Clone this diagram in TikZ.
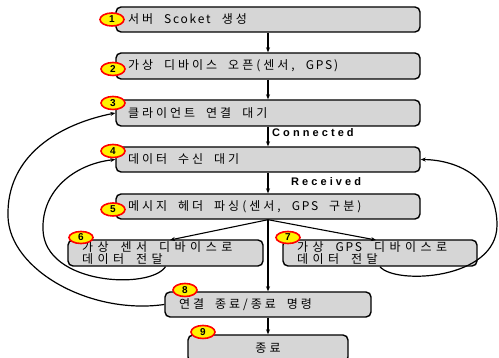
\documentclass[tikz,border=0pt]{standalone}
\usepackage{fontspec}
\setmainfont{Noto Sans CJK KR}[LetterSpace=15]
\newfontfamily\latb{Liberation Sans}[LetterSpace=28]
\newfontfamily\numf{Liberation Sans}
\usetikzlibrary{shapes.geometric,arrows.meta}
\newdimen\hkern \hkern=3pt
\newdimen\wspd \wspd=11pt
\XeTeXinterchartokenstate=1
\newXeTeXintercharclass\hangulcls
\makeatletter
\count@="AC00
\loop \XeTeXcharclass\count@=\hangulcls \ifnum\count@<"D7A3 \advance\count@ 1 \repeat
\makeatother
\XeTeXinterchartoks\hangulcls\hangulcls={\kern\hkern}
\XeTeXinterchartoks\hangulcls 0={\kern\hkern}
\XeTeXinterchartoks 0\hangulcls={\kern\hkern}
\newcommand\myboxfont{\fontsize{12}{12.5}\selectfont}
\newcommand\mywidefont{\fontsize{12}{12.5}\selectfont\hkern=4.5pt\wspd=12pt\relax}
\newcommand\wsp{\hspace{\wspd}}
\begin{document}
\begin{tikzpicture}[x=1pt,y=-1pt,
  box/.style={draw=black, line width=1.4pt, rounded corners=5pt, fill=black!16,
    inner xsep=12pt, inner ysep=0pt, font=\myboxfont, align=left},
  badge/.style={ellipse, draw=red, line width=1.6pt, fill=yellow, minimum width=24pt,
    minimum height=13pt, inner sep=0pt, font=\numf\bfseries\fontsize{10}{10}\selectfont},
  arr/.style={-{Stealth[length=5pt,width=4pt]}, line width=1.1pt},
  carr/.style={-{Stealth[length=5pt,width=4pt]}, line width=1.2pt},
  lbl/.style={font=\latb\bfseries\fontsize{11}{12}\selectfont, anchor=west, inner sep=0pt}]
\useasboundingbox (0,0) rectangle (499,358);
% boxes
\node[box, minimum width=304pt, minimum height=25pt, text width=280pt] (b1) at (268,19.5) {서버\wsp Scoket\wsp 생성};
\node[box, minimum width=304pt, minimum height=26pt, text width=280pt] (b2) at (268,66) {가상\wsp 디바이스\wsp 오픈(센서,\wsp GPS)};
\node[box, minimum width=304pt, minimum height=26pt, text width=280pt] (b3) at (268,113) {클라이언트\wsp 연결\wsp 대기};
\node[box, minimum width=304pt, minimum height=25pt, text width=280pt] (b4) at (268,159.5) {데이터\wsp 수신\wsp 대기};
\node[box, minimum width=304pt, minimum height=25pt, text width=280pt] (b5) at (268,206.5) {메시지\wsp 헤더\wsp 파싱(센서,\wsp GPS\wsp 구분)};
\node[box, font=\mywidefont, inner xsep=14pt, minimum width=195pt, minimum height=26pt, text width=167pt] (b6) at (165.5,253) {가상\wsp 센서\wsp 디바이스로\\데이터\wsp 전달};
\node[box, font=\mywidefont, inner xsep=14pt, minimum width=194pt, minimum height=26pt, text width=166pt] (b7) at (380,253) {가상\wsp GPS\wsp 디바이스로\\데이터\wsp 전달};
\node[box, inner xsep=14pt, minimum width=206pt, minimum height=25pt, text width=178pt] (b8) at (268,304.5) {연결\wsp 종료/종료\wsp 명령};
\node[box, align=center, minimum width=160pt, minimum height=27pt, text width=132pt] (b9) at (268,348.5) {종료};
% labels
\node[lbl] (lc) at (272,133) {Connected};
\node[lbl] (lr) at (291,182) {Received};
% straight connectors
\draw[arr] (b1.south) -- (b2.north);
\draw[arr] (b2.south) -- (b3.north);
\draw[arr] (b3.south) -- (b4.north);
\draw[arr] (b4.south) -- (b5.north);
\coordinate (t6) at (170,240);
\coordinate (t7) at (376,240);
\draw[arr] (b5.south) -- (t6);
\draw[arr] (b5.south) -- (t7);
\draw[arr] (b5.south) -- (b8.north);
\draw[arr] (b8.south) -- (b9.north);
% loops
\draw[carr] (b6.south) .. controls (150,290) and (45,285) .. (43,230)
  .. controls (41.5,190) and (75,164) .. (b4.west);
\draw[carr] (b8.west) .. controls (90,315) and (10,270) .. (8,217)
  .. controls (6,155) and (60,124) .. (b3.west);
\draw[carr] (b7.south) .. controls (395,285) and (497,280) .. (497,225)
  .. controls (497,180) and (460,160) .. (b4.east);
% badges
\node[badge] (n1) at (112,19.5) {1};
\node[badge] (n2) at (113,69) {2};
\node[badge] (n3) at (113,103) {3};
\node[badge] (n4) at (113,151) {4};
\node[badge] (n5) at (113,209.5) {5};
\node[badge, minimum height=12pt] (n6) at (81,237.5) {6};
\node[badge, minimum height=12pt] (n7) at (288,237.5) {7};
\node[badge] (n8) at (185,290) {8};
\node[badge] (n9) at (203,332) {9};
\end{tikzpicture}
\end{document}
